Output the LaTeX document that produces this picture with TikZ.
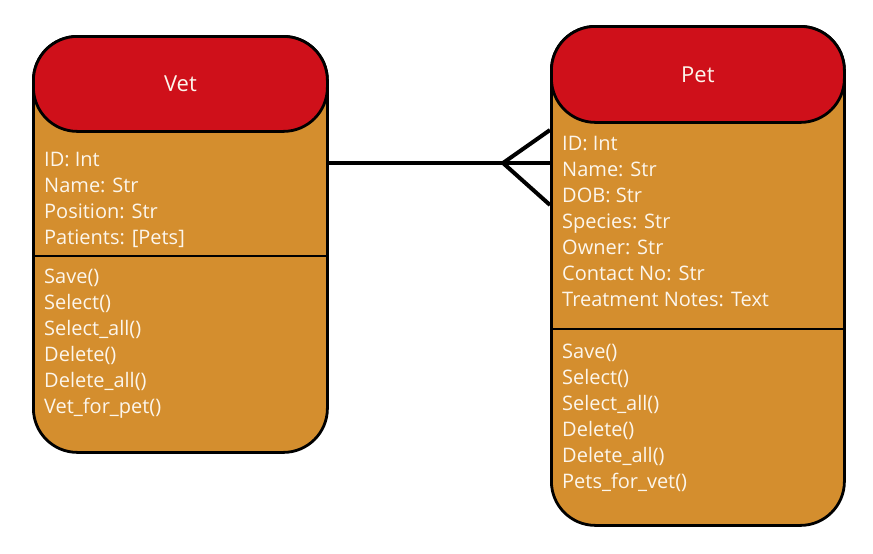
\documentclass[tikz,border=0pt]{standalone}
\usepackage{fontspec}
\setmainfont{Open Sans}
\usetikzlibrary{positioning}
\definecolor{boxorange}{RGB}{212,142,46}
\definecolor{headred}{RGB}{207,16,26}
\definecolor{textcream}{RGB}{252,246,236}

\begin{document}
\begin{tikzpicture}[x=1pt, y=-1pt,
    entity/.style={draw, line width=2.8pt, fill=boxorange, rounded corners=44pt,
      inner sep=0pt, anchor=north west},
    header/.style={draw, line width=2.8pt, fill=headred, rounded corners=44pt,
      inner sep=0pt, anchor=north west, text=textcream, font=\fontsize{22}{26}\selectfont},
    fields/.style={anchor=north west, align=left, inner sep=0pt, text=textcream,
      font=\fontsize{20}{26}\selectfont},
    link/.style={line width=4pt}]
  \useasboundingbox (0,0) rectangle (873,554);

  \node[entity, minimum width=294pt, minimum height=416pt] (vet) at (32,35) {};
  \node[header, minimum width=294pt, minimum height=95pt] (vethead) at (32,35) {Vet};
  \draw[line width=2.5pt] (vet.west |- 0,256) -- (vet.east |- 0,256);
  \node[fields] (vetattr) at (44,152.5) {ID: Int\\Name: Str\\Position: Str\\Patients: [Pets]};
  \node[fields] (vetops) at (44,268.5) {Save()\\Select()\\Select\_all()\\Delete()\\Delete\_all()\\Vet\_for\_pet()};

  \node[entity, minimum width=293pt, minimum height=499pt] (pet) at (550,25) {};
  \node[header, minimum width=293pt, minimum height=96pt] (pethead) at (550,25) {Pet};
  \draw[line width=2.5pt] (pet.west |- 0,329) -- (pet.east |- 0,329);
  \node[fields] (petattr) at (562,136) {ID: Int\\Name: Str\\DOB: Str\\Species: Str\\Owner: Str\\Contact No: Str\\Treatment Notes: Text};
  \node[fields] (petops) at (562,344) {Save()\\Select()\\Select\_all()\\Delete()\\Delete\_all()\\Pets\_for\_vet()};

  \coordinate (fork) at (503,163);
  \draw[link] (vet.east |- fork) -- (pet.west |- fork);
  \draw[link] ([yshift=33pt]pet.west |- fork) -- (fork) -- ([yshift=-42pt]pet.west |- fork);
\end{tikzpicture}
\end{document}
